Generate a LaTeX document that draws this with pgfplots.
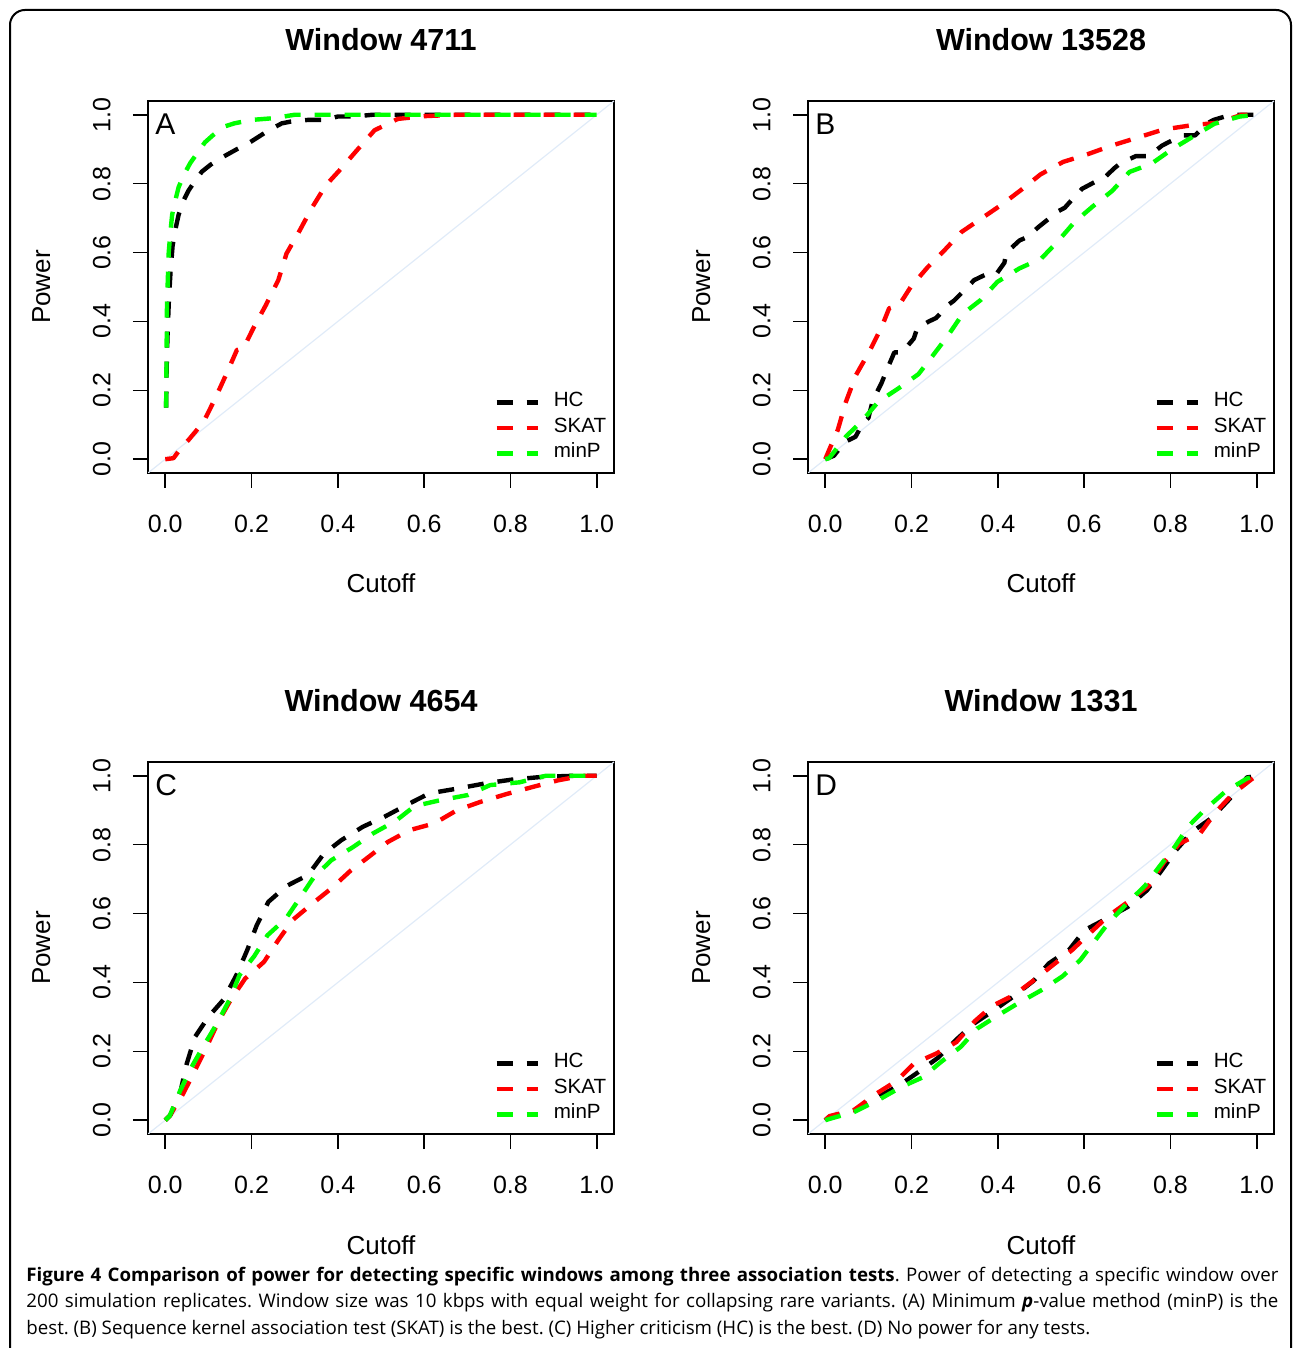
\documentclass[border=0pt]{standalone}
\usepackage{fontspec}
\setmainfont{Liberation Sans}
\newfontfamily\capfont{Open Sans}
\usepackage{pgfplots}
\pgfplotsset{compat=1.18}

\definecolor{rgreen}{RGB}{0,255,0}
\definecolor{rred}{RGB}{255,0,0}
\definecolor{diag}{RGB}{224,235,248}

\pgfplotsset{
  panel/.style={
    scale only axis, width=233pt, height=186pt,
    xmin=-0.04, xmax=1.04, ymin=-0.04, ymax=1.04,
    xtick={0,0.2,0.4,0.6,0.8,1}, ytick={0,0.2,0.4,0.6,0.8,1},
    tick pos=left, tick align=outside, major tick length=7.5pt,
    every tick/.style={black, line width=0.8pt},
    axis line style={line width=0.8pt},
    xticklabel style={anchor=north, inner sep=0pt},
    yticklabel style={rotate=90, anchor=south, inner sep=0pt},
    xticklabel shift=13.5pt, yticklabel shift=11pt,
    /pgf/number format/.cd, fixed, fixed zerofill, precision=1, assume math mode=true, /pgfplots/.cd,
    tick label style={font=\fontsize{12.5}{14}\selectfont},
    label style={font=\fontsize{13}{15}\selectfont},
    xlabel={Cutoff}, ylabel={Power},
    xlabel style={at={(axis description cs:0.5,-0.3226)}, anchor=base},
    ylabel style={at={(axis description cs:-0.2103,0.5)}, anchor=base},
    every axis title/.style={at={(axis description cs:0.5,1.137)}, anchor=base, font=\bfseries\fontsize{15.25}{18}\selectfont},
    legend style={draw=none, fill=none, at={(axis description cs:0.7425,0.2251)}, anchor=north west,
      font=\fontsize{10.3}{12}\selectfont, row sep=0pt, column sep=7pt, inner sep=0pt,
      nodes={inner sep=0pt, text height=8.5pt, text depth=4.25pt}},
    legend cell align=left,
    legend image code/.code={\draw[#1] (0pt,0pt) -- (20.5pt,0pt);},
    every axis plot/.append style={line width=2.2pt, dash pattern=on 8pt off 7pt, line join=round},
  },
  diagline/.style={draw=diag, solid, line width=0.6pt, forget plot},
}

\newcommand{\panelletter}[1]{\node[anchor=base west, inner sep=0pt, font=\fontsize{15}{18}\selectfont] at (axis description cs:0.015,0.9086) {#1};}

\begin{document}
\begin{tikzpicture}
\useasboundingbox (0,0) rectangle (646.5pt,674pt);
\draw[line width=1pt, rounded corners=7.5pt] (5pt,-10pt) -- (5pt,669pt) -- (645.5pt,669pt) -- (645.5pt,-10pt);

% Panel A
\begin{axis}[panel, at={(74pt,437.5pt)}, anchor=south west, title={Window 4711}]
\addplot[diagline] coordinates {(-0.04,-0.04) (1.04,1.04)};
\addplot[black] coordinates {
(0.002,0.15) (0.003,0.25) (0.005,0.35) (0.008,0.45) (0.012,0.54) (0.017,0.62) (0.024,0.67) (0.031,0.71)
(0.042,0.75) (0.054,0.78) (0.07,0.81) (0.085,0.835) (0.105,0.855) (0.13,0.875) (0.166,0.9) (0.19,0.915)
(0.215,0.935) (0.24,0.955) (0.27,0.975) (0.29,0.98) (0.33,0.985) (0.37,0.985) (0.4,0.995) (0.44,0.995)
(0.48,1) (1,1)};
\addlegendentry{HC}
\addplot[rred] coordinates {
(0,0) (0.019,0.003) (0.035,0.03) (0.054,0.056) (0.07,0.08) (0.089,0.109) (0.116,0.177) (0.144,0.254)
(0.166,0.317) (0.181,0.322) (0.204,0.38) (0.233,0.447) (0.262,0.52) (0.281,0.597) (0.312,0.665)
(0.339,0.728) (0.372,0.795) (0.407,0.843) (0.447,0.901) (0.485,0.955) (0.539,0.988) (0.601,0.996)
(0.674,1) (1,1)};
\addlegendentry{SKAT}
\addplot[rgreen] coordinates {
(0.002,0.15) (0.003,0.3) (0.004,0.45) (0.008,0.6) (0.012,0.66) (0.016,0.71) (0.025,0.76) (0.031,0.79)
(0.045,0.83) (0.058,0.86) (0.075,0.89) (0.092,0.92) (0.11,0.94) (0.135,0.965) (0.16,0.975) (0.2,0.985)
(0.25,0.99) (0.3,1) (1,1)};
\addlegendentry{minP}
\panelletter{A}
\end{axis}

% Panel B
\begin{axis}[panel, at={(404pt,437.5pt)}, anchor=south west, title={Window 13528}]
\addplot[diagline] coordinates {(-0.04,-0.04) (1.04,1.04)};
\addplot[black] coordinates {
(0,0) (0.02,0.01) (0.045,0.05) (0.07,0.065) (0.085,0.1) (0.1,0.12) (0.11,0.17) (0.13,0.22) (0.143,0.26)
(0.16,0.31) (0.178,0.31) (0.205,0.35) (0.213,0.38) (0.24,0.40) (0.257,0.41) (0.287,0.45) (0.298,0.46)
(0.33,0.5) (0.345,0.52) (0.37,0.535) (0.395,0.535) (0.415,0.57) (0.42,0.6) (0.45,0.635) (0.468,0.645)
(0.495,0.675) (0.51,0.69) (0.54,0.72) (0.555,0.73) (0.58,0.765) (0.595,0.785) (0.625,0.805) (0.645,0.815)
(0.67,0.845) (0.685,0.86) (0.72,0.88) (0.75,0.88) (0.78,0.91) (0.795,0.92) (0.83,0.94) (0.857,0.94)
(0.885,0.975) (0.9,0.985) (0.94,1) (1,1)};
\addlegendentry{HC}
\addplot[rred] coordinates {
(0,0) (0.009,0.027) (0.029,0.085) (0.048,0.167) (0.071,0.244) (0.102,0.312) (0.131,0.385) (0.148,0.438)
(0.171,0.447) (0.198,0.5) (0.237,0.557) (0.275,0.605) (0.316,0.66) (0.362,0.699) (0.41,0.74) (0.453,0.781)
(0.499,0.827) (0.551,0.863) (0.607,0.885) (0.665,0.911) (0.722,0.933) (0.783,0.957) (0.846,0.969)
(0.911,0.977) (0.965,1) (1,1)};
\addlegendentry{SKAT}
\addplot[rgreen] coordinates {
(0,0) (0.009,0.003) (0.048,0.066) (0.086,0.112) (0.123,0.167) (0.17,0.206) (0.216,0.247) (0.25,0.302)
(0.285,0.36) (0.318,0.421) (0.36,0.462) (0.399,0.515) (0.45,0.554) (0.501,0.583) (0.54,0.634) (0.578,0.689)
(0.62,0.734) (0.665,0.779) (0.705,0.834) (0.756,0.858) (0.805,0.901) (0.85,0.935) (0.902,0.974)
(0.961,0.995) (1,1)};
\addlegendentry{minP}
\panelletter{B}
\end{axis}

% Panel C
\begin{axis}[panel, at={(74pt,107pt)}, anchor=south west, title={Window 4654}]
\addplot[diagline] coordinates {(-0.04,-0.04) (1.04,1.04)};
\addplot[black] coordinates {
(0,0) (0.012,0.015) (0.035,0.082) (0.05,0.165) (0.069,0.242) (0.1,0.3) (0.135,0.35) (0.166,0.424)
(0.19,0.494) (0.212,0.566) (0.239,0.634) (0.281,0.68) (0.331,0.712) (0.367,0.773) (0.408,0.813)
(0.458,0.852) (0.508,0.881) (0.559,0.915) (0.612,0.949) (0.678,0.963) (0.742,0.978) (0.804,0.989)
(0.876,0.997) (0.948,1) (1,1)};
\addlegendentry{HC}
\addplot[rred] coordinates {
(0,0) (0.01,0.012) (0.041,0.076) (0.069,0.145) (0.096,0.213) (0.123,0.286) (0.152,0.35) (0.185,0.411)
(0.229,0.46) (0.262,0.523) (0.295,0.581) (0.339,0.627) (0.385,0.673) (0.429,0.724) (0.472,0.765)
(0.516,0.808) (0.566,0.842) (0.624,0.862) (0.676,0.9) (0.73,0.924) (0.791,0.947) (0.853,0.968)
(0.911,0.987) (0.967,1) (1,1)};
\addlegendentry{SKAT}
\addplot[rgreen] coordinates {
(0,0) (0.01,0.012) (0.035,0.087) (0.059,0.15) (0.09,0.218) (0.119,0.279) (0.149,0.35) (0.172,0.421)
(0.206,0.476) (0.237,0.537) (0.28,0.586) (0.314,0.649) (0.344,0.705) (0.385,0.755) (0.434,0.792)
(0.482,0.833) (0.534,0.869) (0.578,0.912) (0.637,0.929) (0.701,0.944) (0.753,0.973) (0.821,0.981)
(0.882,1) (1,1)};
\addlegendentry{minP}
\panelletter{C}
\end{axis}

% Panel D
\begin{axis}[panel, at={(404pt,107pt)}, anchor=south west, title={Window 1331}]
\addplot[diagline] coordinates {(-0.04,-0.04) (1.04,1.04)};
\addplot[black] coordinates {
(0,0) (0.009,0.01) (0.067,0.029) (0.119,0.066) (0.17,0.1) (0.216,0.14) (0.262,0.182) (0.302,0.232)
(0.345,0.281) (0.391,0.319) (0.437,0.36) (0.483,0.405) (0.518,0.455) (0.566,0.496) (0.601,0.552)
(0.653,0.586) (0.702,0.62) (0.746,0.668) (0.78,0.726) (0.813,0.784) (0.85,0.837) (0.897,0.879)
(0.938,0.934) (0.977,0.995) (1,1)};
\addlegendentry{HC}
\addplot[rred] coordinates {
(0,0) (0.01,0.012) (0.067,0.03) (0.117,0.076) (0.165,0.114) (0.206,0.165) (0.258,0.194) (0.304,0.227)
(0.347,0.288) (0.387,0.332) (0.437,0.363) (0.486,0.409) (0.527,0.45) (0.572,0.494) (0.614,0.544)
(0.655,0.592) (0.705,0.637) (0.749,0.68) (0.784,0.747) (0.82,0.802) (0.869,0.833) (0.904,0.893)
(0.944,0.947) (0.987,0.989) (1,1)};
\addlegendentry{SKAT}
\addplot[rgreen] coordinates {
(0,0) (0.013,0.005) (0.067,0.024) (0.125,0.06) (0.177,0.097) (0.225,0.124) (0.268,0.169) (0.314,0.213)
(0.352,0.266) (0.401,0.305) (0.449,0.341) (0.503,0.379) (0.55,0.418) (0.591,0.465) (0.626,0.523)
(0.655,0.571) (0.699,0.629) (0.742,0.682) (0.774,0.736) (0.81,0.794) (0.842,0.854) (0.88,0.902)
(0.927,0.954) (0.977,0.992) (1,1)};
\addlegendentry{minP}
\panelletter{D}
\end{axis}

\node[anchor=north west, inner sep=0pt, text width=626pt, align=justify,
  font=\capfont\fontsize{9.35}{13.3}\selectfont] at (13pt,43pt)
  {\frenchspacing\strut\textbf{Figure 4 Comparison of power for detecting specific windows among three association tests}. Power of detecting a specific window over\linebreak
  200 simulation replicates. Window size was 10 kbps with equal weight for collapsing rare variants. (A) Minimum \textbf{\textit{p}}-value method (minP) is the\linebreak
  best. (B) Sequence kernel association test (SKAT) is the best. (C) Higher criticism (HC) is the best. (D) No power for any tests.};
\end{tikzpicture}
\end{document}
